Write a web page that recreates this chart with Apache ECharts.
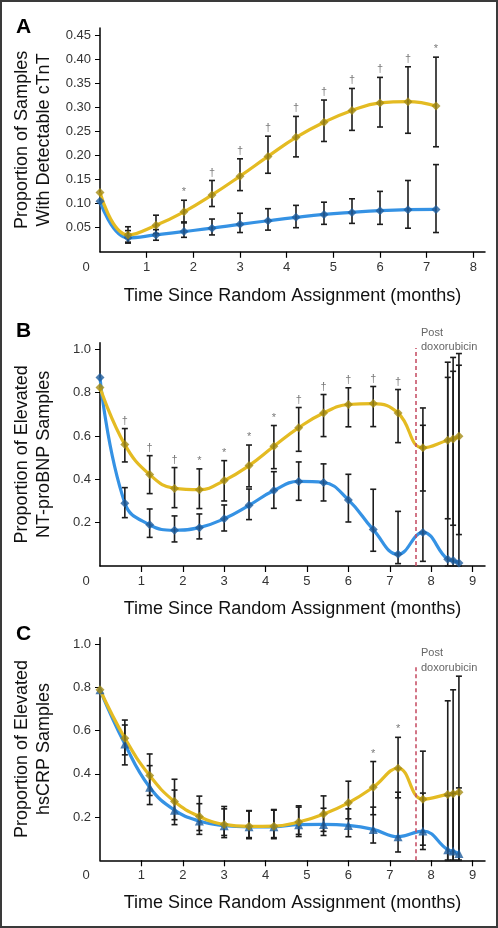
<!DOCTYPE html>
<html>
<head>
<meta charset="utf-8">
<script src="https://cdn.jsdelivr.net/npm/echarts@6/dist/echarts.min.js"></script>
<style>
html,body{margin:0;padding:0;background:#fff;}
#wrap{position:relative;width:498px;height:928px;}
#chart{position:absolute;left:0;top:0;width:498px;height:928px;}
#frame{position:absolute;left:0;top:0;width:498px;height:928px;box-sizing:border-box;border:2px solid #3a3a3a;pointer-events:none;}
</style>
</head>
<body>
<div id="wrap"><div id="chart"></div><div id="frame"></div></div>
<script>
// ---------- Panel A: detectable cTnT ----------
const xA = [0, 0.6, 1.2, 1.8, 2.4, 3.0, 3.6, 4.2, 4.8, 5.4, 6.0, 6.6, 7.2];
const aYel   = [0.123, 0.035, 0.055, 0.083, 0.118, 0.157, 0.198, 0.2375, 0.269, 0.2935, 0.309, 0.3115, 0.3025];
const aYelLo = [null, 0.02, 0.038, 0.062, 0.094, 0.127, 0.163, 0.197, 0.229, 0.252, 0.259, 0.246, 0.218];
const aYelHi = [null, 0.052, 0.076, 0.107, 0.148, 0.193, 0.240, 0.281, 0.315, 0.339, 0.362, 0.384, 0.404];
const aBlu   = [0.105, 0.029, 0.035, 0.042, 0.049, 0.057, 0.0645, 0.0715, 0.0776, 0.0818, 0.0853, 0.0874, 0.088];
const aBluLo = [null, 0.018, 0.024, 0.03, 0.035, 0.04, 0.045, 0.05, 0.057, 0.059, 0.057, 0.049, 0.040];
const aBluHi = [null, 0.044, 0.046, 0.06, 0.068, 0.08, 0.0895, 0.0964, 0.103, 0.110, 0.1254, 0.148, 0.181];
const aSig   = ['', '', '', '*', '†', '†', '†', '†', '†', '†', '†', '†', '*'];
const aYTicks = [0.05, 0.10, 0.15, 0.20, 0.25, 0.30, 0.35, 0.40, 0.45];
const aXLabels = [0, 1, 2, 3, 4, 5, 6, 7, 8];

// ---------- Panel B: elevated NT-proBNP ----------
const xB = [0, 0.6, 1.2, 1.8, 2.4, 3.0, 3.6, 4.2, 4.8, 5.4, 6.0, 6.6, 7.2, 7.8, 8.4, 8.53, 8.67];
const bYel   = [0.823, 0.56, 0.4215, 0.358, 0.352, 0.394, 0.463, 0.552, 0.638, 0.706, 0.745, 0.749, 0.706, 0.545, 0.58, 0.586, 0.598];
const bYelLo = [null, 0.48, 0.334, 0.269, 0.265, 0.30, 0.365, 0.449, 0.529, 0.597, 0.642, 0.643, 0.569, 0.346, 0.218, 0.188, 0.145];
const bYelHi = [null, 0.634, 0.509, 0.454, 0.448, 0.486, 0.558, 0.648, 0.731, 0.791, 0.822, 0.828, 0.814, 0.729, 0.94, 0.962, 0.98];
const bBlu   = [0.869, 0.29, 0.19, 0.165, 0.177, 0.218, 0.28, 0.348, 0.39, 0.385, 0.305, 0.168, 0.054, 0.155, 0.031, 0.025, 0.014];
const bBluLo = [null, 0.223, 0.132, 0.111, 0.125, 0.1615, 0.214, 0.266, 0.303, 0.30, 0.203, 0.068, 0.011, 0.0215, 0, 0, 0];
const bBluHi = [null, 0.3615, 0.263, 0.231, 0.24, 0.2815, 0.355, 0.435, 0.48, 0.471, 0.423, 0.354, 0.252, 0.649, 0.87, 0.898, 0.926];
const bSig   = ['', '†', '†', '†', '*', '*', '*', '*', '†', '†', '†', '†', '†', '', '', '', ''];

// ---------- Panel C: elevated hsCRP ----------
const xC = [0, 0.6, 1.2, 1.8, 2.4, 3.0, 3.6, 4.2, 4.8, 5.4, 6.0, 6.6, 7.2, 7.8, 8.4, 8.53, 8.67];
const cYel   = [0.789, 0.565, 0.392, 0.272, 0.203, 0.166, 0.157, 0.158, 0.177, 0.214, 0.266, 0.338, 0.426, 0.283, 0.305, 0.308, 0.315];
const cYelLo = [null, 0.488, 0.30, 0.188, 0.138, 0.115, 0.105, 0.105, 0.12, 0.134, 0.192, 0.211, 0.289, 0.07, 0, 0, 0];
const cYelHi = [null, 0.649, 0.492, 0.375, 0.297, 0.249, 0.23, 0.235, 0.252, 0.298, 0.366, 0.457, 0.569, 0.505, 0.738, 0.789, 0.852];
const cBlu   = [0.789, 0.538, 0.338, 0.232, 0.1815, 0.16, 0.155, 0.155, 0.165, 0.166, 0.1615, 0.143, 0.109, 0.135, 0.049, 0.043, 0.031];
const cBluLo = [null, 0.4415, 0.258, 0.165, 0.12, 0.105, 0.1, 0.1, 0.11, 0.115, 0.109, 0.08, 0.0385, 0.05, 0, 0, 0];
const cBluHi = [null, 0.626, 0.438, 0.325, 0.262, 0.238, 0.228, 0.232, 0.246, 0.241, 0.238, 0.246, 0.315, 0.311, 0.3, 0.31, 0.335];
const cSig   = ['', '', '', '', '', '', '', '', '', '', '', '*', '*', '', '', '', ''];

const bcYTicks = [0.2, 0.4, 0.6, 0.8, 1.0];
const bcXLabels = [0, 1, 2, 3, 4, 5, 6, 7, 8, 9];
const doxoX = 7.62;
const doxoTopB = 1.006;
const doxoTopC = 0.90;

const panelLetters = ['A', 'B', 'C'];
const yNames = ['Proportion of Samples\nWith Detectable cTnT', 'Proportion of Elevated\nNT-proBNP Samples', 'Proportion of Elevated\nhsCRP Samples'];
const xName = 'Time Since Random Assignment (months)';
const postLabel = ['Post', 'doxorubicin'];

// ---------- styles ----------
const FONT = 'Liberation Sans, Arial, sans-serif';
const YEL_LINE = '#E4BB22', YEL_MARK = '#A58C14';
const BLU_LINE = '#3592E4', BLU_MARK = '#1F5C9C';
const BAR_COL = '#1c1c1c', SIG_COL = '#7a7a7a', DOXO_COL = '#C4485F';

const grids = [
  {left: 100, top: 28, width: 385, height: 223.8},
  {left: 100, top: 342.7, width: 385, height: 223.3},
  {left: 100, top: 637.7, width: 385, height: 222.6}
];

function pair(xs, ys) { return xs.map((x, i) => [x, ys[i]]); }
function errData(xs, lo, hi) {
  const out = [];
  xs.forEach((x, i) => { if (lo[i] !== null && hi[i] !== null) out.push([x, lo[i], hi[i]]); });
  return out;
}
function sigData(xs, hi, sig) {
  const out = [];
  xs.forEach((x, i) => { if (sig[i]) out.push([x, hi[i], sig[i]]); });
  return out;
}

function errSeries(idx, data) {
  return {
    type: 'custom', xAxisIndex: idx, yAxisIndex: idx, z: 3, silent: true,
    encode: {x: 0, y: [1, 2]},
    data: data,
    renderItem: function (params, api) {
      const x = api.value(0);
      const top = api.coord([x, api.value(2)]);
      const bot = api.coord([x, api.value(1)]);
      const w = 3;
      const st = {stroke: BAR_COL, lineWidth: 1.6};
      return {type: 'group', children: [
        {type: 'line', shape: {x1: top[0], y1: top[1], x2: bot[0], y2: bot[1]}, style: st},
        {type: 'line', shape: {x1: top[0] - w, y1: top[1], x2: top[0] + w, y2: top[1]}, style: st},
        {type: 'line', shape: {x1: bot[0] - w, y1: bot[1], x2: bot[0] + w, y2: bot[1]}, style: st}
      ]};
    }
  };
}
function sigSeries(idx, data) {
  return {
    type: 'custom', xAxisIndex: idx, yAxisIndex: idx, z: 5, silent: true,
    encode: {x: 0, y: 1},
    data: data,
    renderItem: function (params, api) {
      const p = api.coord([api.value(0), api.value(1)]);
      return {type: 'text', x: p[0], y: p[1] - 8,
        style: {text: data[params.dataIndex][2], fill: SIG_COL, fontSize: 11, fontFamily: FONT, align: 'center', verticalAlign: 'middle'}};
    }
  };
}
function lineSeries(idx, xs, ys, color) {
  return {type: 'line', xAxisIndex: idx, yAxisIndex: idx, data: pair(xs, ys), smooth: 0.45,
    showSymbol: false, symbol: 'none', z: 2, silent: true,
    lineStyle: {color: color, width: 3.2}};
}
function markSeries(idx, xs, ys, color, symbol, size) {
  return {type: 'scatter', xAxisIndex: idx, yAxisIndex: idx, data: pair(xs, ys), z: 4, silent: true,
    symbol: symbol, symbolSize: size, itemStyle: {color: color}};
}

function xAxis(idx, max, labels, nameGap) {
  return {
    type: 'value', gridIndex: idx, min: 0, max: max,
    name: xName, nameLocation: 'middle', nameGap: nameGap,
    nameTextStyle: {fontFamily: FONT, fontSize: 18, color: '#111'},
    axisLine: {show: true, lineStyle: {color: '#000', width: 1.5}},
    axisTick: {show: true, length: 6, lineStyle: {color: '#000', width: 1.2}, customValues: labels.filter(v => v > 0)},
    axisLabel: {fontFamily: FONT, fontSize: 13, color: '#333', margin: 9, customValues: labels,
      formatter: v => v === 0 ? '{z|0}' : String(v),
      rich: {z: {fontFamily: FONT, fontSize: 13, color: '#333', padding: [0, 28, 0, 0]}}},
    splitLine: {show: false}
  };
}
function yAxis(idx, max, ticks, digits, name) {
  return {
    type: 'value', gridIndex: idx, min: 0, max: max,
    name: name, nameLocation: 'middle', nameGap: 45, nameRotate: 90,
    nameTextStyle: {fontFamily: FONT, fontSize: 18, color: '#111', lineHeight: 22},
    axisLine: {show: true, lineStyle: {color: '#000', width: 1.5}},
    axisTick: {show: true, length: 5, lineStyle: {color: '#000', width: 1}, customValues: ticks},
    axisLabel: {fontFamily: FONT, fontSize: 13, color: '#333', margin: 9, customValues: ticks,
      formatter: v => v.toFixed(digits)},
    splitLine: {show: false}
  };
}

const doxoLine = (idx, top) => ({
  type: 'line', xAxisIndex: idx, yAxisIndex: idx, data: [], silent: true,
  markLine: {silent: true, symbol: 'none', label: {show: false},
    lineStyle: {color: DOXO_COL, type: [4, 3], width: 1.5},
    data: [[{coord: [doxoX, 0]}, {coord: [doxoX, top]}]]}
});

const option = {
  animation: false,
  backgroundColor: '#fff',
  title: [
    {text: panelLetters[0], left: 11, top: 12},
    {text: panelLetters[1], left: 11, top: 316},
    {text: panelLetters[2], left: 11, top: 619}
  ].map(t => Object.assign(t, {textStyle: {fontFamily: FONT, fontSize: 21, fontWeight: 'bold', color: '#000'}})),
  grid: grids,
  xAxis: [xAxis(0, 8.25, aXLabels, 35), xAxis(1, 9.3, bcXLabels, 34), xAxis(2, 9.3, bcXLabels, 34)],
  yAxis: [yAxis(0, 0.4645, aYTicks, 2, yNames[0]), yAxis(1, 1.03, bcYTicks, 1, yNames[1]), yAxis(2, 1.03, bcYTicks, 1, yNames[2])],
  graphic: [
    {type: 'text', left: 421, top: 326, style: {text: postLabel[0] + '\n' + postLabel[1], fill: '#666', fontSize: 11, fontFamily: FONT, lineHeight: 14}},
    {type: 'text', left: 421, top: 645, style: {text: postLabel[0] + '\n' + postLabel[1], fill: '#666', fontSize: 11, fontFamily: FONT, lineHeight: 15}}
  ],
  series: [
    // Panel A
    lineSeries(0, xA, aBlu, BLU_LINE),
    lineSeries(0, xA, aYel, YEL_LINE),
    errSeries(0, errData(xA, aBluLo, aBluHi)),
    errSeries(0, errData(xA, aYelLo, aYelHi)),
    markSeries(0, xA, aBlu, BLU_MARK, 'diamond', 9),
    markSeries(0, xA, aYel, YEL_MARK, 'diamond', 9),
    sigSeries(0, sigData(xA, aYelHi, aSig)),
    // Panel B
    doxoLine(1, doxoTopB),
    lineSeries(1, xB, bBlu, BLU_LINE),
    lineSeries(1, xB, bYel, YEL_LINE),
    errSeries(1, errData(xB, bBluLo, bBluHi)),
    errSeries(1, errData(xB, bYelLo, bYelHi)),
    markSeries(1, xB, bBlu, BLU_MARK, 'diamond', 9),
    markSeries(1, xB, bYel, YEL_MARK, 'diamond', 9),
    sigSeries(1, sigData(xB, bYelHi, bSig)),
    // Panel C
    doxoLine(2, doxoTopC),
    lineSeries(2, xC, cBlu, BLU_LINE),
    lineSeries(2, xC, cYel, YEL_LINE),
    errSeries(2, errData(xC, cBluLo, cBluHi)),
    errSeries(2, errData(xC, cYelLo, cYelHi)),
    markSeries(2, xC, cBlu, BLU_MARK, 'triangle', 9),
    markSeries(2, xC, cYel, YEL_MARK, 'diamond', 9),
    sigSeries(2, sigData(xC, cYelHi, cSig))
  ]
};

const chart = echarts.init(document.getElementById('chart'), null, {renderer: 'canvas'});
chart.setOption(option);
</script>
</body>
</html>
